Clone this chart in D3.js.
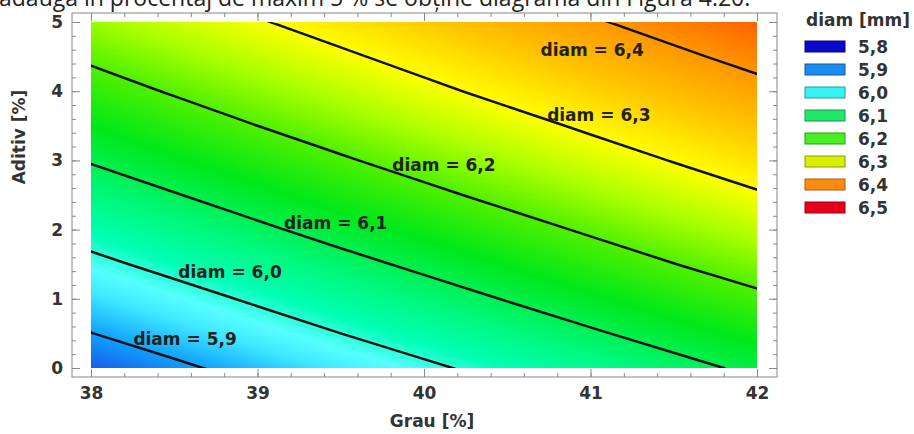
<!DOCTYPE html>
<html>
<head>
<meta charset="utf-8">
<script src="https://cdn.jsdelivr.net/npm/d3@7"></script>
<style>
  body { margin: 0; background: #fff; }
  svg { display: block; }
  .bold { font-family: "DejaVu Sans", Verdana, sans-serif; font-weight: bold; fill: #333; }
  .tick text { font-family: "DejaVu Sans", Verdana, sans-serif; font-weight: bold; fill: #333; font-size: 17px; }
  .tick line { stroke: #8a8a8a; }
</style>
</head>
<body>
<script>
// grid nodes of the response surface (Grau on x, Aditiv on y)
var grauValues = [38, 38.5, 39, 39.5, 40, 40.5, 41, 41.5, 42];
var aditivValues = [0, 0.5, 1, 1.5, 2, 2.5, 3, 3.5, 4, 4.5, 5];

// diam [mm], one row per Aditiv value
var diamGrid = [
  [5.853, 5.888, 5.923, 5.956, 5.989, 6.021, 6.052, 6.082, 6.112],
  [5.899, 5.933, 5.967, 6.000, 6.032, 6.063, 6.093, 6.123, 6.151],
  [5.943, 5.976, 6.009, 6.042, 6.073, 6.103, 6.133, 6.162, 6.189],
  [5.985, 6.018, 6.050, 6.082, 6.112, 6.142, 6.171, 6.199, 6.226],
  [6.026, 6.059, 6.090, 6.121, 6.150, 6.179, 6.207, 6.235, 6.261],
  [6.066, 6.097, 6.128, 6.158, 6.187, 6.215, 6.242, 6.269, 6.295],
  [6.104, 6.135, 6.165, 6.194, 6.222, 6.249, 6.276, 6.302, 6.327],
  [6.140, 6.170, 6.200, 6.228, 6.256, 6.282, 6.308, 6.333, 6.357],
  [6.175, 6.205, 6.233, 6.261, 6.288, 6.314, 6.339, 6.363, 6.386],
  [6.209, 6.238, 6.265, 6.292, 6.318, 6.343, 6.368, 6.391, 6.414],
  [6.241, 6.269, 6.296, 6.322, 6.347, 6.372, 6.395, 6.418, 6.440]
];

var contourLevels = [5.9, 6.0, 6.1, 6.2, 6.3, 6.4];
var contourLabels = ["diam = 5,9", "diam = 6,0", "diam = 6,1", "diam = 6,2", "diam = 6,3", "diam = 6,4"];
var labelGrau = [38.565, 38.835, 39.47, 40.12, 41.05, 41.01];
var labelAditiv = [0.42, 1.39, 2.095, 2.933, 3.656, 4.595];

var legendValues = [5.8, 5.9, 6.0, 6.1, 6.2, 6.3, 6.4, 6.5];
var legendLabels = ["5,8", "5,9", "6,0", "6,1", "6,2", "6,3", "6,4", "6,5"];

var xTicks = [38, 39, 40, 41, 42];
var yTicks = [0, 1, 2, 3, 4, 5];

// colours
var legendColors = ["#0a0ac8", "#1a8cf0", "#36f2f2", "#22e86a", "#46ee22", "#d8f000", "#ff8c10", "#e8001a"];
var mapDomain = [5.80, 5.85, 5.90, 5.95, 5.98, 6.02, 6.07, 6.10, 6.14, 6.20, 6.25, 6.30, 6.35, 6.40, 6.45, 6.50];
var mapColors = ["#0020c8", "#1a58e6", "#10a0ff", "#40e8ff", "#58ffff", "#00ffb4", "#00f87c", "#00f052",
                 "#00e81a", "#50f000", "#aaff00", "#ffff00", "#ffc800", "#ff9600", "#ff5600", "#ff1000"];

var W = 914, H = 434;
var svg = d3.select("body").append("svg").attr("width", W).attr("height", H);

// bit of the page text above the figure
svg.append("text")
  .attr("x", -1).attr("y", 6)
  .style("font-family", "'Open Sans', sans-serif")
  .style("font-size", "23px")
  .style("fill", "#222")
  .text("adăugă în procentaj de maxim 5 % se obține diagrama din Figura 4.20.");

var xScale = d3.scaleLinear().domain([38, 42]).range([91, 757]);
var yScale = d3.scaleLinear().domain([0, 5]).range([368, 22]);

var mapColor = d3.scaleLinear().domain(mapDomain).range(mapColors).interpolate(d3.interpolateRgb);

var nx = grauValues.length, ny = aditivValues.length;
var flat = [];
diamGrid.forEach(function(row) { row.forEach(function(v) { flat.push(v); }); });

// contour grid coords -> data coords (samples sit at i + 0.5)
var gx = d3.scaleLinear().domain([0.5, nx - 0.5]).range([grauValues[0], grauValues[nx - 1]]);
var gy = d3.scaleLinear().domain([0.5, ny - 0.5]).range([aditivValues[0], aditivValues[ny - 1]]);

var path = d3.geoPath(d3.geoTransform({
  point: function(x, y) { this.stream.point(xScale(gx(x)), yScale(gy(y))); }
}));

svg.append("clipPath").attr("id", "plotclip")
  .append("rect")
  .attr("x", xScale(38)).attr("y", yScale(5))
  .attr("width", xScale(42) - xScale(38)).attr("height", yScale(0) - yScale(5));

var plot = svg.append("g").attr("clip-path", "url(#plotclip)");

var step = 0.004;
var bands = d3.contours().size([nx, ny]).thresholds(d3.range(5.8, 6.5, step))(flat);

plot.selectAll("path.band")
  .data(bands)
  .join("path")
  .attr("class", "band")
  .attr("d", path)
  .attr("fill", function(d) { return mapColor(d.value + step / 2); })
  .attr("stroke", function(d) { return mapColor(d.value + step / 2); })
  .attr("stroke-width", 0.3);

var lines = d3.contours().size([nx, ny]).thresholds(contourLevels)(flat);
plot.selectAll("path.iso")
  .data(lines)
  .join("path")
  .attr("class", "iso")
  .attr("d", path)
  .attr("fill", "none")
  .attr("stroke", "#111")
  .attr("stroke-width", 2.5);

// contour labels
svg.selectAll("text.clab")
  .data(contourLabels)
  .join("text")
  .attr("class", "clab bold")
  .attr("x", function(d, i) { return xScale(labelGrau[i]); })
  .attr("y", function(d, i) { return yScale(labelAditiv[i]); })
  .attr("dy", "0.36em")
  .attr("text-anchor", "middle")
  .style("font-size", "17px")
  .style("fill", "#222")
  .text(function(d) { return d; });

// frame
var frame = { x0: 72, y0: 13, x1: 777, y1: 377 };
svg.append("rect")
  .attr("x", frame.x0).attr("y", frame.y0)
  .attr("width", frame.x1 - frame.x0).attr("height", frame.y1 - frame.y0)
  .attr("fill", "none").attr("stroke", "#9a9a9a").attr("stroke-width", 1.2);

var minorX = d3.range(38, 42.001, 0.2);
var minorY = d3.range(0, 5.001, 0.2);

function addAxis(axis, tx, ty) {
  var g = svg.append("g").attr("transform", "translate(" + tx + "," + ty + ")").call(axis);
  g.select(".domain").remove();
  return g;
}

// bottom
addAxis(d3.axisBottom(xScale).tickValues(minorX).tickSize(-4).tickFormat(""), 0, frame.y1);
addAxis(d3.axisBottom(xScale).tickValues(xTicks).tickSize(-8).tickPadding(10).tickFormat(d3.format("d")), 0, frame.y1);
// top
addAxis(d3.axisTop(xScale).tickValues(minorX).tickSize(-4).tickFormat(""), 0, frame.y0);
addAxis(d3.axisTop(xScale).tickValues(xTicks).tickSize(-8).tickFormat(""), 0, frame.y0);
// left
addAxis(d3.axisLeft(yScale).tickValues(minorY).tickSize(-4).tickFormat(""), frame.x0, 0);
addAxis(d3.axisLeft(yScale).tickValues(yTicks).tickSize(-8).tickPadding(9).tickFormat(d3.format("d")), frame.x0, 0);
// right
addAxis(d3.axisRight(yScale).tickValues(minorY).tickSize(-4).tickFormat(""), frame.x1, 0);
addAxis(d3.axisRight(yScale).tickValues(yTicks).tickSize(-8).tickFormat(""), frame.x1, 0);

// axis titles
svg.append("text")
  .attr("class", "bold")
  .attr("x", 432).attr("y", 427)
  .attr("text-anchor", "middle")
  .style("font-size", "17px")
  .text("Grau [%]");

svg.append("text")
  .attr("class", "bold")
  .attr("transform", "translate(25,137) rotate(-90)")
  .attr("text-anchor", "middle")
  .style("font-size", "17px")
  .text("Aditiv [%]");

// legend
var legend = svg.append("g");
legend.append("text")
  .attr("class", "bold")
  .attr("x", 806).attr("y", 26)
  .style("font-size", "17px")
  .text("diam [mm]");

var rows = legend.selectAll("g.row")
  .data(legendValues)
  .join("g")
  .attr("class", "row")
  .attr("transform", function(d, i) { return "translate(805," + (47 + i * 23) + ")"; });

rows.append("rect")
  .attr("x", 0).attr("y", -6)
  .attr("width", 40).attr("height", 11)
  .attr("fill", function(d, i) { return legendColors[i]; })
  .attr("stroke", function(d, i) { return d3.color(legendColors[i]).darker(1.2); })
  .attr("stroke-width", 1);

rows.append("text")
  .attr("class", "bold")
  .attr("x", 53).attr("y", 0)
  .attr("dy", "0.36em")
  .style("font-size", "17px")
  .text(function(d, i) { return legendLabels[i]; });
</script>
</body>
</html>
